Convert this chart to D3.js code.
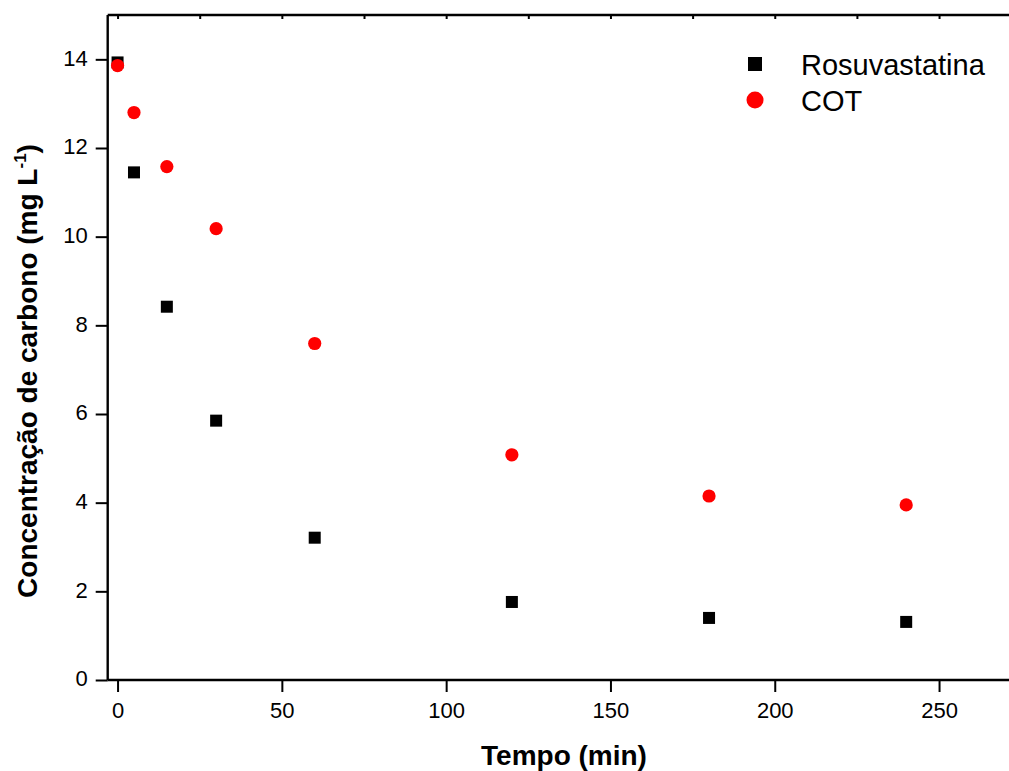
<!DOCTYPE html>
<html>
<head>
<meta charset="utf-8">
<script src="https://cdn.jsdelivr.net/npm/d3@7"></script>
<style>
  body { margin: 0; background: #fff; }
  svg { display: block; font-family: "Liberation Sans", Arial, sans-serif; }
</style>
</head>
<body>
<svg id="chart" width="1009" height="771"></svg>
<script>
const times = [0, 5, 15, 30, 60, 120, 180, 240];
const rosuvastatina = [13.93, 11.45, 8.42, 5.85, 3.21, 1.76, 1.40, 1.31];
const cot = [13.86, 12.80, 11.58, 10.18, 7.59, 5.08, 4.15, 3.95];
const xTicks = [0, 50, 100, 150, 200, 250];
const xMinorTicks = [25, 75, 125, 175, 225];
const yTicks = [0, 2, 4, 6, 8, 10, 12, 14];
const yMinorTicks = [1, 3, 5, 7, 9, 11, 13];
const seriesNames = ["Rosuvastatina", "COT"];

const svg = d3.select("#chart");
const pLeft = 107.7, pRight = 1012, pTop = 15, pBottom = 680;

const x = d3.scaleLinear().domain([-3, 272.2]).range([pLeft, pRight]);
const y = d3.scaleLinear().domain([0, 15]).range([pBottom, pTop]);

// X axis bottom
const gx = svg.append("g").attr("transform", `translate(0,${pBottom})`);
gx.call(d3.axisBottom(x).tickValues(xMinorTicks).tickSize(7).tickFormat(""));
gx.call(d3.axisBottom(x).tickValues(xTicks).tickSize(12).tickPadding(10).tickFormat(d3.format("d")));
gx.selectAll(".domain").remove();
gx.selectAll("line").attr("stroke", "#000").attr("stroke-width", 2);
gx.selectAll("text").attr("font-size", 22).attr("fill", "#000");

// X axis top (inward ticks)
const gxt = svg.append("g").attr("transform", `translate(0,${pTop})`);
gxt.call(d3.axisTop(x).tickValues(xTicks.concat(xMinorTicks)).tickSize(-4).tickFormat(""));
gxt.selectAll(".domain").remove();
gxt.selectAll("line").attr("stroke", "#000").attr("stroke-width", 2);

// Y axis
const gy = svg.append("g").attr("transform", `translate(${pLeft},0)`);
gy.call(d3.axisLeft(y).tickValues(yMinorTicks).tickSize(6).tickFormat(""));
gy.call(d3.axisLeft(y).tickValues(yTicks).tickSize(12).tickPadding(8).tickFormat(d3.format("d")));
gy.selectAll(".domain").remove();
gy.selectAll("line").attr("stroke", "#000").attr("stroke-width", 2);
gy.selectAll("text").attr("font-size", 22).attr("fill", "#000").attr("dy", "0.27em");

// frame lines
svg.append("line").attr("x1", pLeft).attr("x2", 1009).attr("y1", pBottom).attr("y2", pBottom)
  .attr("stroke", "#000").attr("stroke-width", 2.4);
svg.append("line").attr("x1", pLeft).attr("x2", 1009).attr("y1", pTop).attr("y2", pTop)
  .attr("stroke", "#000").attr("stroke-width", 2.4);
svg.append("line").attr("x1", pLeft).attr("x2", pLeft).attr("y1", pTop).attr("y2", pBottom)
  .attr("stroke", "#000").attr("stroke-width", 2.4);

// Data: squares
const sq = 12;
svg.append("g").selectAll("rect").data(times.map((t, i) => [t, rosuvastatina[i]]))
  .join("rect")
  .attr("x", d => x(d[0]) - sq / 2).attr("y", d => y(d[1]) - sq / 2)
  .attr("width", sq).attr("height", sq).attr("fill", "#000");

// Data: circles
svg.append("g").selectAll("circle").data(times.map((t, i) => [t, cot[i]]))
  .join("circle")
  .attr("cx", d => x(d[0])).attr("cy", d => y(d[1])).attr("r", 6.6).attr("fill", "#ff0000");

// Legend
const lg = svg.append("g");
lg.append("rect").attr("x", 755 - 7).attr("y", 64 - 7).attr("width", 14).attr("height", 14).attr("fill", "#000");
lg.append("circle").attr("cx", 755).attr("cy", 100).attr("r", 8.5).attr("fill", "#ff0000");
lg.append("text").attr("x", 801).attr("y", 75).attr("font-size", 29).text(seriesNames[0]);
lg.append("text").attr("x", 801).attr("y", 111).attr("font-size", 29).text(seriesNames[1]);

// Axis titles
svg.append("text").attr("x", 564).attr("y", 765).attr("text-anchor", "middle")
  .attr("font-size", 28).attr("font-weight", "bold").text("Tempo (min)");

const yt = svg.append("text").attr("transform", "translate(37,371) rotate(-90)")
  .attr("text-anchor", "middle").attr("font-size", 28).attr("font-weight", "bold");
yt.append("tspan").text("Concentração de carbono (mg L");
yt.append("tspan").attr("font-size", 17).attr("dy", -11).text("-1");
yt.append("tspan").attr("dy", 11).text(")");
</script>
</body>
</html>
